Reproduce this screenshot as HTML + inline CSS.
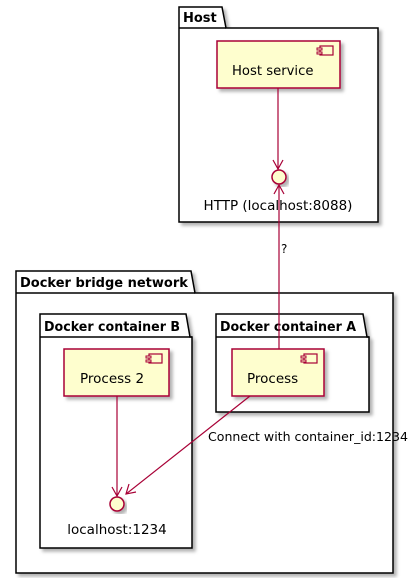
<!DOCTYPE html>
<html><head><meta charset="utf-8"><style>
html,body{margin:0;padding:0;background:#fff;}
svg{display:block;}
text{font-family:"DejaVu Sans","Liberation Sans",sans-serif;fill:#000;}
</style></head><body>
<svg width="416" height="578" viewBox="0 0 416 578" xmlns="http://www.w3.org/2000/svg">
<defs>
<filter id="sh" x="-10%" y="-10%" width="130%" height="130%"><feDropShadow dx="3" dy="3" stdDeviation="1.5" flood-color="#000" flood-opacity="0.3"/></filter>
</defs>
<!-- Host -->
<g filter="url(#sh)">
<path d="M179,28 L179,7 L222,7 L226,28 L378,28 L378,222 L179,222 Z" fill="#fff" stroke="#000" stroke-width="1.5"/>
</g>
<line x1="179" y1="28" x2="226" y2="28" stroke="#000" stroke-width="1.5"/>
<text x="183" y="22" font-size="13" font-weight="bold">Host</text>
<g filter="url(#sh)"><rect x="217" y="41" width="123" height="47" fill="#FEFECE" stroke="#A80036" stroke-width="1.5"/></g>
<rect x="320" y="46" width="13" height="9" fill="#FEFECE" stroke="#A80036" stroke-width="1.2"/>
<rect x="317" y="48" width="5" height="2" fill="#FEFECE" stroke="#A80036" stroke-width="1"/>
<rect x="317" y="52" width="5" height="2" fill="#FEFECE" stroke="#A80036" stroke-width="1"/>
<text x="232" y="75" font-size="13.2">Host service</text>
<g filter="url(#sh)"><circle cx="279" cy="177" r="7" fill="#FEFECE" stroke="#A80036" stroke-width="1.5"/></g>
<text x="278" y="210" font-size="13.5" text-anchor="middle">HTTP (localhost:8088)</text>
<!-- Docker bridge -->
<g filter="url(#sh)">
<path d="M16,293 L16,271 L191,271 L195,293 L393,293 L393,573 L16,573 Z" fill="#fff" stroke="#000" stroke-width="1.5"/>
</g>
<line x1="16" y1="293" x2="195" y2="293" stroke="#000" stroke-width="1.5"/>
<text x="20" y="287" font-size="13" font-weight="bold">Docker bridge network</text>
<!-- container B -->
<g filter="url(#sh)">
<path d="M40,337 L40,314 L186,314 L190,337 L192,337 L192,548 L40,548 Z" fill="#fff" stroke="#000" stroke-width="1.5"/>
</g>
<line x1="40" y1="337" x2="192" y2="337" stroke="#000" stroke-width="1.5"/>
<text x="44" y="331" font-size="13" font-weight="bold" textLength="136" lengthAdjust="spacingAndGlyphs">Docker container B</text>
<!-- container A -->
<g filter="url(#sh)">
<path d="M216,337 L216,314 L363,314 L367,337 L369,337 L369,412 L216,412 Z" fill="#fff" stroke="#000" stroke-width="1.5"/>
</g>
<line x1="216" y1="337" x2="369" y2="337" stroke="#000" stroke-width="1.5"/>
<text x="220" y="331" font-size="13" font-weight="bold" textLength="136" lengthAdjust="spacingAndGlyphs">Docker container A</text>
<!-- Process 2 -->
<g filter="url(#sh)"><rect x="64" y="349" width="105" height="47" fill="#FEFECE" stroke="#A80036" stroke-width="1.5"/></g>
<rect x="149" y="354" width="13" height="9" fill="#FEFECE" stroke="#A80036" stroke-width="1.2"/>
<rect x="146" y="356" width="5" height="2" fill="#FEFECE" stroke="#A80036" stroke-width="1"/>
<rect x="146" y="360" width="5" height="2" fill="#FEFECE" stroke="#A80036" stroke-width="1"/>
<text x="80" y="383" font-size="13.5">Process 2</text>
<!-- Process -->
<g filter="url(#sh)"><rect x="232" y="349" width="92" height="47" fill="#FEFECE" stroke="#A80036" stroke-width="1.5"/></g>
<rect x="304" y="354" width="13" height="9" fill="#FEFECE" stroke="#A80036" stroke-width="1.2"/>
<rect x="301" y="356" width="5" height="2" fill="#FEFECE" stroke="#A80036" stroke-width="1"/>
<rect x="301" y="360" width="5" height="2" fill="#FEFECE" stroke="#A80036" stroke-width="1"/>
<text x="247" y="383" font-size="13.5">Process</text>
<!-- localhost circle -->
<g filter="url(#sh)"><circle cx="117" cy="504" r="7" fill="#FEFECE" stroke="#A80036" stroke-width="1.5"/></g>
<text x="117" y="534" font-size="13.5" text-anchor="middle">localhost:1234</text>
<!-- connectors -->
<g stroke="#A80036" stroke-width="1.2" fill="none">
<line x1="278" y1="88" x2="278" y2="169"/>
<polyline points="273,160 278,169 283,160"/>
<line x1="279" y1="349" x2="279" y2="185"/>
<polyline points="274,194 279,185 284,194"/>
<line x1="117" y1="396" x2="117" y2="496"/>
<polyline points="112,487 117,496 122,487"/>
<line x1="250" y1="396" x2="126" y2="494"/>
<polyline points="129,484 126,494 136,492"/>
</g>
<text x="281" y="253" font-size="12">?</text>
<text x="208" y="441" font-size="12.5" textLength="200" lengthAdjust="spacingAndGlyphs">Connect with container_id:1234</text>
</svg>
</body></html>
